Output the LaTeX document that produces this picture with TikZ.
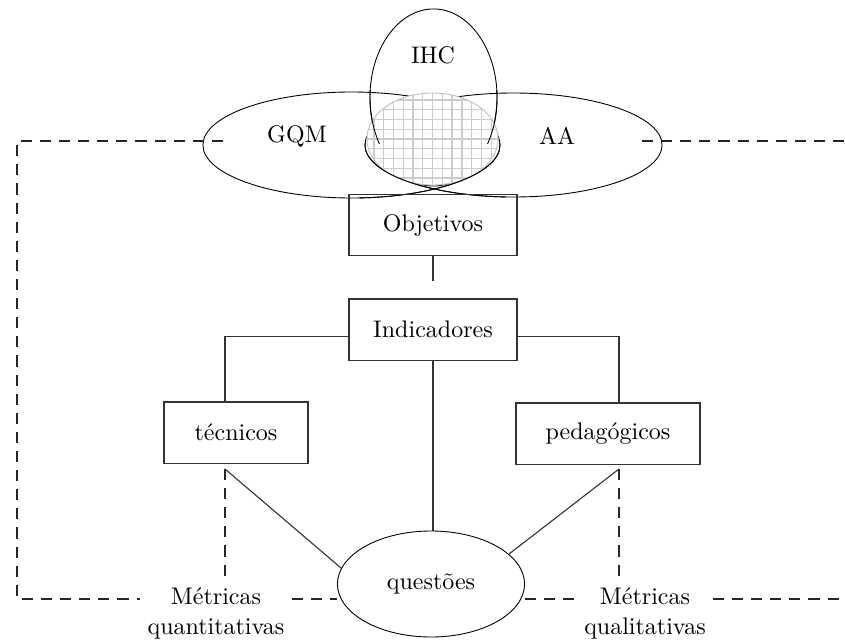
\documentclass[tikz,border=0pt]{standalone}
\usetikzlibrary{shapes.geometric,positioning}
\tikzset{
  area/.style={ellipse,draw,inner sep=0pt,outer sep=0pt},
  overlap/.style={
    ellipse,draw=black!25,fill=white,inner sep=0pt,
    minimum width=59pt,minimum height=41.4pt,
    path picture={\draw[black!20,line width=0.6pt]
      (path picture bounding box.south west) grid[step=4.4pt]
      (path picture bounding box.north east);}
  },
  box/.style={
    draw=black!80,line width=0.6pt,inner sep=0pt,outer sep=0pt,
    minimum width=#1,minimum height=27.6pt
  },
  metric/.style={align=center,inner sep=3pt},
  link/.style={draw=black!80,line width=0.5pt},
  frame/.style={draw=black!85,line width=0.5pt,dash pattern=on 5pt off 3.6pt}
}

\begin{document}
\begin{tikzpicture}[x=0.45pt,y=-0.45pt,font=\fontsize{10.8}{13.5}\selectfont]
  \useasboundingbox (0,0) rectangle (845,641);

  % three areas and what they share
  \node[area,minimum width=133.7pt,minimum height=47.7pt] (gqm) at (351.5,145) {};
  \node[area,minimum width=133.7pt,minimum height=46.8pt] (aa) at (513.5,145) {};
  \node[area,minimum width=57.2pt,minimum height=79.7pt] (ihc) at (433.5,97.5) {};
  \node[overlap] (core) at (432.5,139) {};
  \begin{scope}
    \clip (360,143) rectangle (505,200);
    \draw (gqm.center) ellipse [x radius=148.5,y radius=53];
    \draw (aa.center) ellipse [x radius=148.5,y radius=52];
  \end{scope}
  \begin{scope}
    \clip (360,90) rectangle (505,143);
    \draw (ihc.center) ellipse [x radius=63.5,y radius=88.5];
  \end{scope}
  \node (ihctxt) at (433,55) {IHC};
  \node (gqmtxt) at (297,136) {GQM};
  \node (aatxt) at (557,136) {AA};

  % tree
  \node[box=75.6pt] (obj) at (433,225) {Objetivos};
  \node[box=75.6pt] (ind) at (433,329.5) {Indicadores};
  \node[box=64.8pt] (tec) at (236,432.5) {técnicos};
  \node[box=82.8pt] (ped) at (608,433.5) {pedagógicos};
  \node[ellipse,draw,minimum width=84.2pt,minimum height=47.7pt,inner sep=0pt] (quest) at (431,584) {questões};
  \node[metric] (mquant) at (216,613) {Métricas\\quantitativas};
  \node[metric] (mqual) at (645,613) {Métricas\\qualitativas};

  \coordinate (objstub) at (433,281);
  \coordinate (tecfoot) at (225,469);
  \coordinate (pedfoot) at (619,469);
  \draw[link] (obj.south) -- (objstub);
  \draw[link] ([yshift=-3pt]ind.west) -| (tec.north -| tecfoot);
  \draw[link] ([yshift=-3pt]ind.east) -| (ped.north -| pedfoot);
  \draw[link] (ind.south) -- (ind.south |- quest.north);
  \draw[link] (tecfoot) -- (quest.170);
  \draw[link] (pedfoot) -- (quest.21);

  % dashed frame
  \coordinate (ftl) at (17,141);
  \coordinate (fbl) at (17,599);
  \coordinate (ftr) at (845,141);
  \coordinate (fbr) at (845,599);
  \coordinate (gqmend) at (223,141);
  \coordinate (aaend) at (642,141);
  \draw[frame] (gqmend) -- (ftl) -- (fbl) -- (mquant.west |- fbl);
  \draw[frame] (aaend) -- (ftr);
  \draw[frame] (mquant.east |- fbl) -- (quest.west |- fbl);
  \draw[frame] (quest.east |- fbl) -- (mqual.west |- fbl);
  \draw[frame] (mqual.east |- fbl) -- (fbr);
  \draw[frame] (tecfoot) -- (tecfoot |- mquant.north);
  \draw[frame] (pedfoot) -- (pedfoot |- mqual.north);
\end{tikzpicture}
\end{document}
